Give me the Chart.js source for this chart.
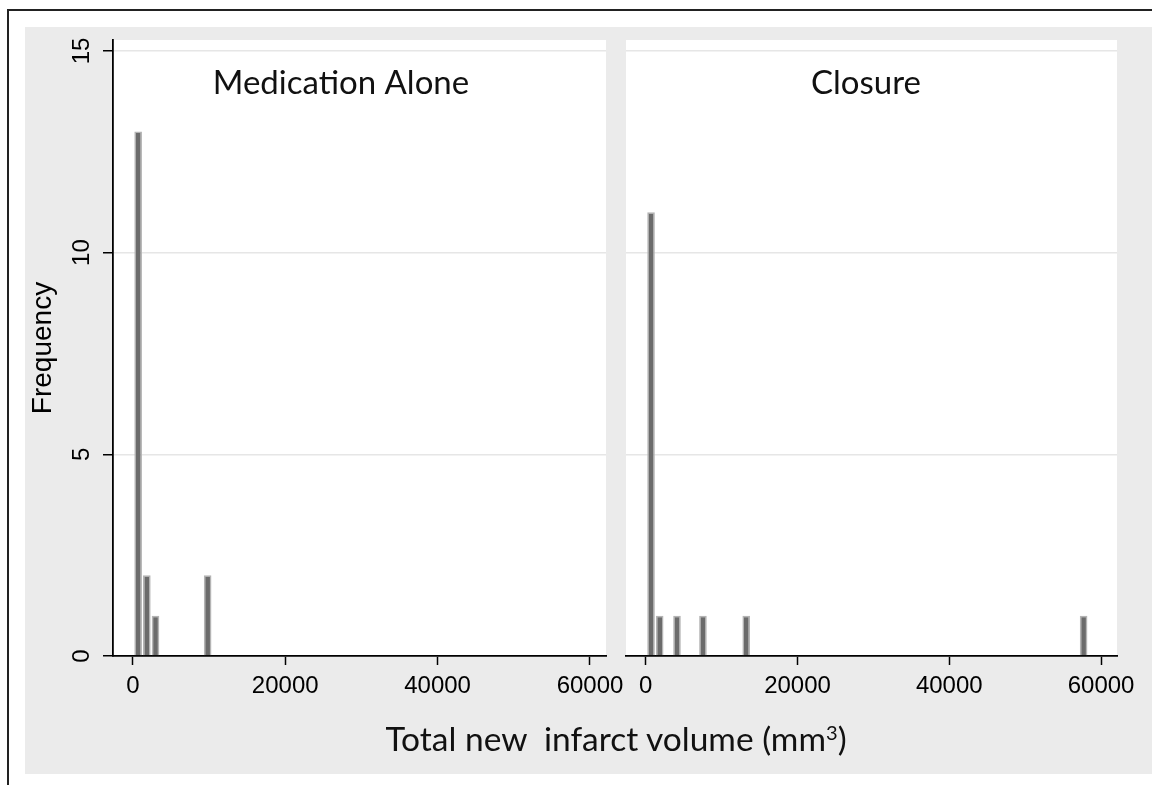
<!DOCTYPE html>
<html>
<head>
<meta charset="utf-8">
<script src="https://cdn.jsdelivr.net/npm/chart.js@4.4.1/dist/chart.umd.min.js"></script>
<style>
  body { margin: 0; width: 1152px; height: 785px; overflow: hidden; background: #fff; position: relative; }
  #frame { position: absolute; left: 7px; top: 9px; width: 1200px; height: 800px; border-left: 2px solid #222; border-top: 2px solid #222; }
  #panel { position: absolute; left: 25px; top: 27px; width: 1200px; height: 747px; background: #ebebeb; }
  canvas { position: absolute; }
  #xtitle { position: absolute; left: 0; width: 1232px; top: 722px; text-align: center; font-family: Lato, sans-serif; font-size: 33.5px; line-height: 33px; color: #111; white-space: pre; }
  #xtitle sup { font-size: 0.6em; vertical-align: 0.55em; line-height: 0; }
</style>
</head>
<body>
<div id="frame"></div>
<div id="panel"></div>
<canvas id="medChart" width="615" height="700" style="left:25px; top:27px;"></canvas>
<canvas id="closureChart" width="552" height="700" style="left:600px; top:27px;"></canvas>
<div id="xtitle">Total new  infarct volume (mm<sup>3</sup>)</div>
<script>
// histogram bins (bin midpoints, mm3) and counts
const medVolume = [700, 1840, 2980, 9820];
const medFreq = [13, 2, 1, 2];
const closureVolume = [700, 1840, 4120, 7540, 13240, 57700];
const closureFreq = [11, 1, 1, 1, 1, 1];

const xTicks = [0, 20000, 40000, 60000];
const yTicks = [0, 5, 10, 15];

Chart.defaults.font.family = "'Liberation Sans', Arial, sans-serif";
Chart.defaults.color = '#000';

const toPoints = (xs, ys) => xs.map((x, i) => ({ x: x, y: ys[i] }));

// white plot region + panel caption inside it
const panelPlugin = {
    id: 'panelPlugin',
    beforeDraw(chart) {
        const a = chart.chartArea;
        const ctx = chart.ctx;
        ctx.save();
        ctx.fillStyle = '#ffffff';
        ctx.fillRect(a.left, a.top, a.right - a.left, a.bottom - a.top);
        ctx.restore();
    },
    afterDraw(chart, args, opts) {
        const a = chart.chartArea;
        const ctx = chart.ctx;
        ctx.save();
        ctx.font = '33px Lato, sans-serif';
        ctx.fillStyle = '#111';
        ctx.textAlign = 'center';
        ctx.textBaseline = 'alphabetic';
        ctx.fillText(opts.text, a.left + opts.offsetX, a.top + opts.offsetY);
        ctx.restore();
    }
};

const makeChart = (id, xs, ys, caption, captionX, withYAxis) => {
    const ctx = document.getElementById(id).getContext('2d');
    return new Chart(ctx, {
        type: 'bar',
        data: {
            datasets: [{
                data: toPoints(xs, ys),
                backgroundColor: '#6b6b6b',
                borderColor: '#b4b4b4',
                borderWidth: 1.5,
                borderSkipped: 'start',
                barPercentage: 0.88,
                categoryPercentage: 1
            }]
        },
        options: {
            responsive: false,
            animation: false,
            devicePixelRatio: 1,
            layout: {
                padding: withYAxis ? { left: 0, right: 34, top: 13, bottom: 0 } : { left: 26, right: 35, top: 13, bottom: 0 }
            },
            plugins: {
                legend: { display: false },
                tooltip: { enabled: false },
                panelPlugin: { text: caption, offsetX: captionX, offsetY: 54 }
            },
            scales: {
                x: {
                    type: 'linear',
                    offset: false,
                    bounds: 'data',
                    min: -2600,
                    max: 62100,
                    afterBuildTicks: (scale) => { scale.ticks = xTicks.map(v => ({ value: v })); },
                    afterFit: (scale) => { scale.height = 71; scale.paddingLeft = 0; scale.paddingRight = 0; },
                    border: { display: true, color: '#000', width: 1.8 },
                    grid: { offset: false, drawOnChartArea: false, drawTicks: true, tickLength: 9, tickColor: '#000', tickWidth: 1.5 },
                    ticks: { font: { size: 24 }, padding: 7, maxRotation: 0, color: '#000', callback: (v) => String(v) }
                },
                y: {
                    min: 0,
                    max: 15.27,
                    afterBuildTicks: (scale) => { scale.ticks = yTicks.map(v => ({ value: v })); },
                    afterFit: (scale) => { scale.width = withYAxis ? 88 : 0; scale.paddingTop = 0; scale.paddingBottom = 0; },
                    border: { display: withYAxis, color: '#000', width: 1.8 },
                    grid: {
                        color: (c) => (c.tick && c.tick.value === 0) ? 'rgba(0,0,0,0)' : '#e6e6e6',
                        lineWidth: 1.5,
                        drawTicks: withYAxis,
                        tickLength: 10,
                        tickColor: '#000',
                        tickWidth: 1.5
                    },
                    ticks: {
                        display: withYAxis,
                        font: { size: 24 },
                        padding: 7,
                        minRotation: 90,
                        maxRotation: 90,
                        crossAlign: 'center',
                        color: '#000'
                    },
                    title: {
                        display: withYAxis,
                        text: 'Frequency',
                        font: { size: 28 },
                        padding: { top: 1.5, bottom: 0 },
                        color: '#000'
                    }
                }
            }
        },
        plugins: [panelPlugin]
    });
};

makeChart('medChart', medVolume, medFreq, 'Medication Alone', 228, true);
makeChart('closureChart', closureVolume, closureFreq, 'Closure', 240, false);
</script>
</body>
</html>
